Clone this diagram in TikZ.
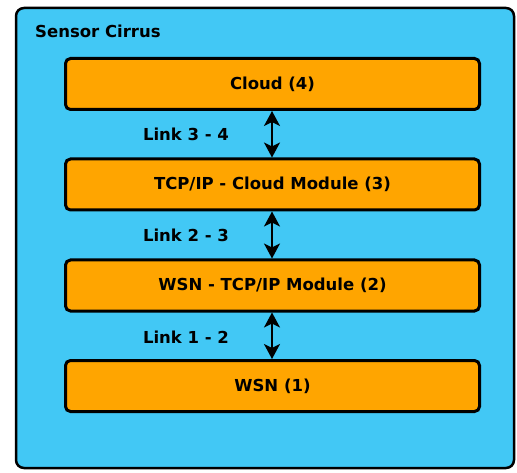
\documentclass[tikz,border=0pt]{standalone}
\usepackage{fontspec}
\setmainfont{DejaVu Sans}
\usetikzlibrary{arrows.meta}
\definecolor{cirrusblue}{RGB}{66,200,245}
\definecolor{layerorange}{RGB}{255,165,0}
\begin{document}
\begin{tikzpicture}[x=1pt,y=-1pt,
    layer/.style={draw=black,line width=3pt,fill=layerorange,rounded corners=5pt,
      minimum width=414pt,minimum height=51pt,inner sep=0pt,
      font=\fontsize{16.5}{20}\selectfont\bfseries},
    linklabel/.style={font=\fontsize{16.5}{20}\selectfont\bfseries,inner sep=0pt},
    link/.style={line width=2pt,{Stealth[length=15pt,width=16pt,inset=4pt]}-{Stealth[length=15pt,width=16pt,inset=4pt]}}]
    \useasboundingbox (0,0) rectangle (517,473);
    \draw [line width=2.5pt,fill=cirrusblue,rounded corners=8pt] (16,8) rectangle (514,468);
    \node [linklabel,anchor=west] (title) at (35,31) {Sensor Cirrus};
    % layers
    \node [layer] (cloud) at (272.5,84) {Cloud (4)};
    \node [layer] (tcpcloud) at (272.5,184.5) {TCP/IP - Cloud Module (3)};
    \node [layer] (wsntcp) at (272.5,285.5) {WSN - TCP/IP Module (2)};
    \node [layer] (wsn) at (272.5,386) {WSN (1)};
    % links
    \draw [link] (cloud.south -| 272,0) -- (tcpcloud.north -| 272,0);
    \draw [link] (tcpcloud.south -| 272,0) -- (wsntcp.north -| 272,0);
    \draw [link] (wsntcp.south -| 272,0) -- (wsn.north -| 272,0);
    \node [linklabel] (l34) at (186,134) {Link 3 - 4};
    \node [linklabel] (l23) at (186,235) {Link 2 - 3};
    \node [linklabel] (l12) at (186,337) {Link 1 - 2};
\end{tikzpicture}
\end{document}
